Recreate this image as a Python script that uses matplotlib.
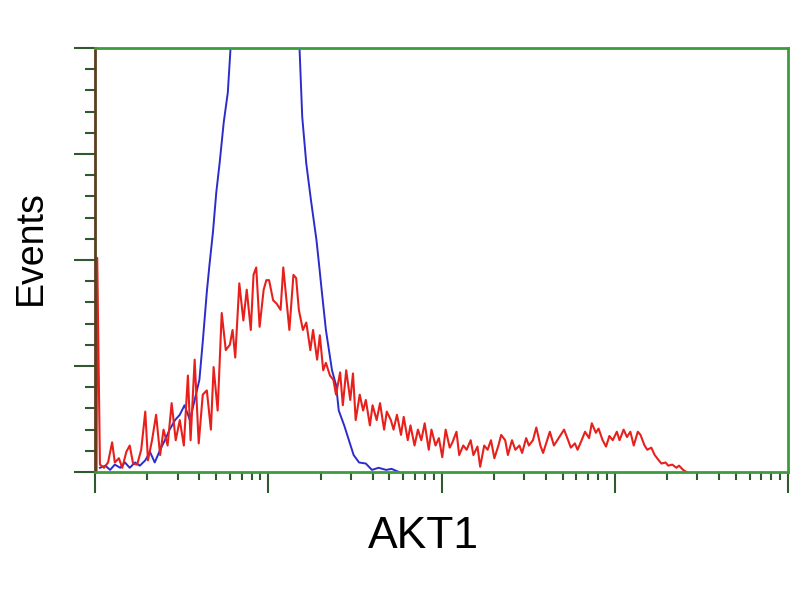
import numpy as np
import matplotlib
matplotlib.use('Agg')
import matplotlib.pyplot as plt
from matplotlib.ticker import LogLocator, MultipleLocator, NullFormatter

# channel numbers (1024 channels over 4 log decades) and event counts
red_ch = [2, 3, 7, 13, 19, 25, 29, 35, 40, 46, 51, 56, 62, 68, 74, 78, 84, 90, 96, 101,
          107, 113, 119, 125, 131, 137, 141, 147, 153, 159, 165, 171, 175, 181, 187, 193,
          199, 203, 207, 213, 219, 224, 230, 234, 238, 243, 249, 253, 257, 263, 268, 274,
          278, 282, 287, 293, 297, 301, 307, 312, 318, 322, 328, 332, 337, 341, 347, 352,
          356, 362, 366, 371, 377, 381, 385, 391, 396, 400, 406, 410, 416, 421, 427, 431,
          437, 441, 446, 452, 456, 462, 466, 472, 477, 482, 487, 493, 497, 503, 508, 513,
          518, 524, 528, 534, 538, 544, 549, 555, 559, 565, 569, 575, 580, 585, 590, 596,
          600, 606, 610, 616, 621, 627, 631, 637, 641, 647, 652, 658, 662, 668, 672, 678,
          683, 688, 693, 699, 703, 709, 713, 719, 724, 730, 734, 740, 744, 750, 755, 760,
          765, 771, 775, 781, 786, 791, 796, 802, 806, 812, 816, 822, 827, 833, 837, 843,
          847, 853, 859, 863, 869, 874]
red_counts = [0, 202, 7, 4, 9, 28, 9, 13, 4, 19, 25, 8, 7, 21, 57, 11, 30, 54, 16, 40,
              25, 65, 30, 49, 25, 91, 30, 106, 27, 73, 77, 40, 99, 58, 150, 115,
              120, 134, 108, 178, 143, 172, 134, 186, 193, 137, 172, 181, 181, 162, 159, 153,
              193, 167, 134, 186, 183, 153, 134, 141, 115, 134, 106, 129, 96, 103, 91, 87,
              73, 94, 63, 96, 68, 93, 49, 73, 58, 68, 44, 63, 49, 65, 40, 57,
              49, 40, 54, 35, 52, 30, 44, 25, 40, 30, 46, 21, 40, 25, 32, 14,
              40, 23, 28, 38, 16, 25, 21, 30, 16, 24, 5, 25, 21, 30, 13, 25,
              35, 30, 16, 30, 21, 25, 18, 32, 25, 30, 42, 25, 18, 30, 38, 25,
              30, 35, 40, 30, 23, 27, 21, 30, 38, 32, 46, 37, 41, 30, 24, 34,
              30, 38, 30, 40, 33, 38, 25, 38, 35, 25, 21, 23, 16, 11, 8, 9,
              6, 7, 4, 6, 2, 0]

blue_ch = [7, 15, 22, 29, 37, 44, 51, 59, 66, 74, 81, 88, 96, 103, 110, 118, 125, 132,
           140, 147, 154, 159, 165, 169, 174, 179, 184, 190, 196, 202, 213, 228, 243, 257,
           272, 287, 297, 302, 306, 312, 319, 327, 331, 335, 341, 350, 356, 360, 368, 375,
           382, 390, 400, 409, 419, 430, 438, 449]
blue_counts = [4, 6, 2, 7, 4, 9, 4, 9, 6, 11, 19, 9, 21, 30, 40, 49, 54, 63,
               49, 68, 87, 123, 170, 196, 226, 264, 292, 330, 358, 420, 470, 520, 545, 540,
               520, 480, 440, 400, 335, 291, 256, 219, 195, 170, 134, 96, 82, 58, 44, 30,
               16, 9, 8, 2, 4, 2, 3, 0]

red_x = 10 ** (np.array(red_ch) / 256)
blue_x = 10 ** (np.array(blue_ch) / 256)

plt.rcParams['font.family'] = ['Liberation Sans', 'DejaVu Sans']

fig = plt.figure(figsize=(8, 6), dpi=100)
ax = fig.add_axes([0.119, 0.2133, 0.866, 0.7067])

ax.plot(blue_x, blue_counts, color='#2c2ccc', lw=1.4)
ax.plot(red_x, red_counts, color='#e8201c', lw=1.5)

ax.set_xscale('log')
ax.set_xlim(1, 10**4)
ax.set_ylim(0, 400)

ax.xaxis.set_major_locator(LogLocator(base=10))
ax.xaxis.set_minor_locator(LogLocator(base=10, subs=np.arange(2, 10)))
ax.xaxis.set_major_formatter(NullFormatter())
ax.xaxis.set_minor_formatter(NullFormatter())
ax.yaxis.set_major_locator(MultipleLocator(100))
ax.yaxis.set_minor_locator(MultipleLocator(20))
ax.yaxis.set_major_formatter(NullFormatter())

ax.tick_params(axis='both', which='major', direction='out', length=15, width=1.5, color='#2f5a2f')
ax.tick_params(axis='x', which='minor', direction='out', length=6, width=1.5, color='#2f5a2f')
ax.tick_params(axis='y', which='minor', direction='out', length=7, width=1.5, color='#2f5a2f')

for side in ['top', 'right', 'bottom']:
    ax.spines[side].set_color('#3c9c3c')
    ax.spines[side].set_linewidth(2)
ax.spines['left'].set_color('#5c3d1e')
ax.spines['left'].set_linewidth(2)

fig.text(0.038, 1 - 248 / 600, 'Events', rotation=90, fontsize=27, ha='center', va='center')
fig.text(0.529, 1 - 537 / 600, 'AKT1', fontsize=32, ha='center', va='center')

fig.savefig('out.png', dpi=100)
